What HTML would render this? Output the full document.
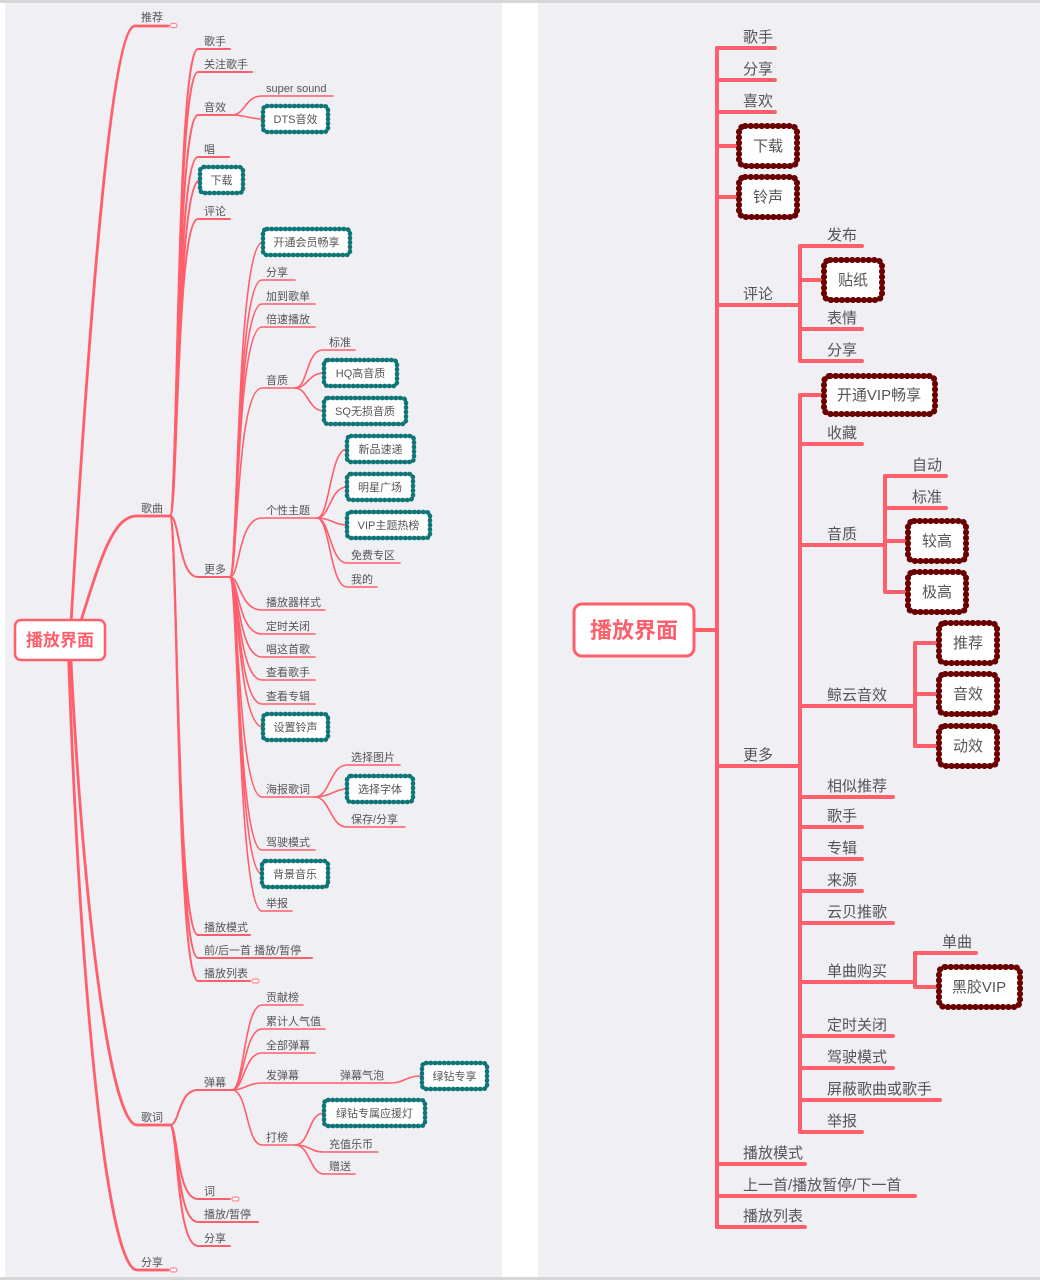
<!DOCTYPE html>
<html><head><meta charset="utf-8"><style>
html,body{margin:0;padding:0;background:#fff}
svg{display:block}
text{font-family:"Liberation Sans","Noto Sans CJK SC",sans-serif;fill:#555}
.l{fill:none;stroke:#ff5f6b;stroke-linecap:round}
.l1{stroke-width:2.8}.l2{stroke-width:2}.l3{stroke-width:1.6}
.s{font-size:11px}
.r{font-size:15px}
.ct{fill:#fff;stroke:#0e7676;stroke-width:2.5}
.cd{fill:none;stroke:#0e7676;stroke-width:4.5;stroke-dasharray:0.5 4;stroke-linecap:round}
.rt{fill:#fff;stroke:#6a0000;stroke-width:3}
.rd{fill:none;stroke:#6a0000;stroke-width:6;stroke-dasharray:0.5 5;stroke-linecap:round}
.R{fill:none;stroke:#ff5f6b;stroke-width:4;stroke-linecap:round;stroke-linejoin:round}
.mk{fill:#fff;stroke:#ff8a92;stroke-width:1.2}
</style></head><body>
<svg width="1040" height="1280" viewBox="0 0 1040 1280" xmlns="http://www.w3.org/2000/svg">
<rect x="0" y="0" width="1040" height="1280" fill="#fff"/>
<rect x="5" y="0" width="497" height="1280" fill="#efeff4"/>
<rect x="538" y="0" width="502" height="1280" fill="#efeff4"/>
<rect x="0" y="0" width="1040" height="3" fill="#d6d6d6"/>
<rect x="0" y="1277" width="1040" height="3" fill="#d6d6d6"/>

<g class="l l1">
<path d="M70 640 C90 300 112 26 135 26 H168"/>
<path d="M75 640 C100 560 112 516 137 516 H170"/>
<path d="M70 640 C82 900 110 1125 137 1125 H170"/>
<path d="M68 640 C80 1000 108 1270 137 1270 H168"/>
</g>
<g class="l l2">
<path d="M170 516 C178 516 176 49 198 49 H230"/>
<path d="M170 516 C178 516 176 72 198 72 H252"/>
<path d="M170 516 C178 516 176 115 198 115 H232"/>
<path d="M170 516 C178 516 176 157 198 157 H229"/>
<path d="M170 516 C178 516 176 180 200 180"/>
<path d="M170 516 C178 516 176 219 198 219 H230"/>
<path d="M170 516 C180 516 178 577 198 577 H230"/>
<path d="M170 516 C178 516 176 935 198 935 H250"/>
<path d="M170 516 C178 516 176 958 198 958 H312"/>
<path d="M170 516 C178 516 176 981 198 981 H250"/>
<path d="M170 1125 C180 1125 178 1090 198 1090 H232"/>
<path d="M170 1125 C178 1125 176 1199 198 1199 H230"/>
<path d="M170 1125 C178 1125 176 1222 198 1222 H258"/>
<path d="M170 1125 C178 1125 176 1246 198 1246 H230"/>
</g>
<g class="l l3">
<path d="M232 115 C245 115 245 96 262 96 H333"/>
<path d="M232 115 C245 115 250 119 263 119"/>
<path d="M230 577 C238 577 236 242 263 242"/>
<path d="M230 577 C238 577 236 280 262 280 H295"/>
<path d="M230 577 C238 577 236 304 262 304 H315"/>
<path d="M230 577 C238 577 236 327 262 327 H315"/>
<path d="M230 577 C238 577 236 388 262 388 H295"/>
<path d="M230 577 C240 577 238 518 262 518 H317"/>
<path d="M230 577 C240 577 240 610 262 610 H325"/>
<path d="M230 577 C238 577 238 634 262 634 H315"/>
<path d="M230 577 C238 577 238 657 262 657 H315"/>
<path d="M230 577 C238 577 238 680 262 680 H315"/>
<path d="M230 577 C238 577 238 704 262 704 H315"/>
<path d="M230 577 C238 577 238 727 263 727"/>
<path d="M230 577 C238 577 238 797 262 797 H315"/>
<path d="M230 577 C238 577 238 850 262 850 H315"/>
<path d="M230 577 C238 577 238 874 262 874"/>
<path d="M230 577 C238 577 238 911 262 911 H292"/>
<path d="M295 388 C308 388 306 350 323 350 H355"/>
<path d="M295 388 C308 388 308 373 324 373"/>
<path d="M295 388 C308 388 308 411 324 411"/>
<path d="M317 518 C330 518 330 449 347 449"/>
<path d="M317 518 C330 518 330 487 347 487"/>
<path d="M317 518 C330 518 335 525 347 525"/>
<path d="M317 518 C330 518 330 563 347 563 H400"/>
<path d="M317 518 C330 518 330 587 347 587 H377"/>
<path d="M315 797 C330 797 330 765 347 765 H400"/>
<path d="M315 797 C330 797 335 789 347 789"/>
<path d="M315 797 C330 797 330 827 347 827 H405"/>
<path d="M232 1090 C244 1090 244 1005 262 1005 H303"/>
<path d="M232 1090 C244 1090 244 1029 262 1029 H325"/>
<path d="M232 1090 C244 1090 244 1053 262 1053 H315"/>
<path d="M232 1090 C244 1090 248 1083 262 1083 H390 C405 1083 405 1076 422 1076"/>
<path d="M232 1090 C248 1090 246 1145 262 1145 H295"/>
<path d="M295 1145 C310 1145 308 1113 324 1113"/>
<path d="M295 1145 C310 1145 310 1152 324 1152 H378"/>
<path d="M295 1145 C310 1145 310 1174 324 1174 H355"/>
</g>
<rect class="mk" x="170" y="23.5" width="7" height="4" rx="2"/>
<rect class="mk" x="252" y="979" width="7" height="4" rx="2"/>
<rect class="mk" x="232" y="1197" width="7" height="4" rx="2"/>
<rect class="mk" x="170" y="1268" width="7" height="4" rx="2"/>

<g>
<rect class="ct" x="263" y="106" width="65" height="26" rx="4"/><rect class="cd" x="263" y="106" width="65" height="26" rx="4"/>
<rect class="ct" x="200" y="167" width="43" height="26" rx="4"/><rect class="cd" x="200" y="167" width="43" height="26" rx="4"/>
<rect class="ct" x="263" y="229" width="87" height="26" rx="4"/><rect class="cd" x="263" y="229" width="87" height="26" rx="4"/>
<rect class="ct" x="324" y="360" width="73" height="26" rx="4"/><rect class="cd" x="324" y="360" width="73" height="26" rx="4"/>
<rect class="ct" x="324" y="398" width="82" height="26" rx="4"/><rect class="cd" x="324" y="398" width="82" height="26" rx="4"/>
<rect class="ct" x="347" y="436" width="67" height="26" rx="4"/><rect class="cd" x="347" y="436" width="67" height="26" rx="4"/>
<rect class="ct" x="347" y="474" width="66" height="26" rx="4"/><rect class="cd" x="347" y="474" width="66" height="26" rx="4"/>
<rect class="ct" x="347" y="512" width="83" height="26" rx="4"/><rect class="cd" x="347" y="512" width="83" height="26" rx="4"/>
<rect class="ct" x="263" y="714" width="65" height="26" rx="4"/><rect class="cd" x="263" y="714" width="65" height="26" rx="4"/>
<rect class="ct" x="347" y="776" width="66" height="26" rx="4"/><rect class="cd" x="347" y="776" width="66" height="26" rx="4"/>
<rect class="ct" x="262" y="861" width="66" height="26" rx="4"/><rect class="cd" x="262" y="861" width="66" height="26" rx="4"/>
<rect class="ct" x="422" y="1063" width="65" height="26" rx="4"/><rect class="cd" x="422" y="1063" width="65" height="26" rx="4"/>
<rect class="ct" x="324" y="1100" width="101" height="26" rx="4"/><rect class="cd" x="324" y="1100" width="101" height="26" rx="4"/>
</g>

<rect x="15" y="620" width="90" height="40" rx="6" fill="#fff" stroke="#ff5f6b" stroke-width="2.5"/>
<text x="60" y="646" text-anchor="middle" style="font-size:17px;font-weight:bold;fill:#ff5f6b">播放界面</text>

<g class="s">
<text x="141" y="21">推荐</text>
<text x="141" y="512">歌曲</text>
<text x="141" y="1121">歌词</text>
<text x="141" y="1266">分享</text>
<text x="204" y="45">歌手</text>
<text x="204" y="68">关注歌手</text>
<text x="204" y="111">音效</text>
<text x="204" y="153">唱</text>
<text x="204" y="215">评论</text>
<text x="204" y="573">更多</text>
<text x="204" y="931">播放模式</text>
<text x="204" y="954">前/后一首 播放/暂停</text>
<text x="204" y="977">播放列表</text>
<text x="266" y="92">super sound</text>
<text x="266" y="276">分享</text>
<text x="266" y="300">加到歌单</text>
<text x="266" y="323">倍速播放</text>
<text x="266" y="384">音质</text>
<text x="266" y="514">个性主题</text>
<text x="266" y="606">播放器样式</text>
<text x="266" y="630">定时关闭</text>
<text x="266" y="653">唱这首歌</text>
<text x="266" y="676">查看歌手</text>
<text x="266" y="700">查看专辑</text>
<text x="266" y="793">海报歌词</text>
<text x="266" y="846">驾驶模式</text>
<text x="266" y="907">举报</text>
<text x="329" y="346">标准</text>
<text x="351" y="559">免费专区</text>
<text x="351" y="583">我的</text>
<text x="351" y="761">选择图片</text>
<text x="351" y="823">保存/分享</text>
<text x="204" y="1086">弹幕</text>
<text x="204" y="1195">词</text>
<text x="204" y="1218">播放/暂停</text>
<text x="204" y="1242">分享</text>
<text x="266" y="1001">贡献榜</text>
<text x="266" y="1025">累计人气值</text>
<text x="266" y="1049">全部弹幕</text>
<text x="266" y="1079">发弹幕</text>
<text x="340" y="1079">弹幕气泡</text>
<text x="266" y="1141">打榜</text>
<text x="329" y="1148">充值乐币</text>
<text x="329" y="1170">赠送</text>
</g>
<g class="s" text-anchor="middle">
<text x="295.5" y="123">DTS音效</text>
<text x="221.5" y="184">下载</text>
<text x="306.5" y="246">开通会员畅享</text>
<text x="360.5" y="377">HQ高音质</text>
<text x="365" y="415">SQ无损音质</text>
<text x="380.5" y="453">新品速递</text>
<text x="380" y="491">明星广场</text>
<text x="388.5" y="529">VIP主题热榜</text>
<text x="295.5" y="731">设置铃声</text>
<text x="380" y="793">选择字体</text>
<text x="295" y="878">背景音乐</text>
<text x="454.5" y="1080">绿钻专享</text>
<text x="374.5" y="1117">绿钻专属应援灯</text>
</g>

<g class="R">
<path d="M694 630 H717"/>
<path d="M717 48 V1227"/>
<path d="M717 48 H775 M717 80 H775 M717 112 H775 M717 146 H738 M717 197 H738"/>
<path d="M717 305 H800 M800 246 V361 M800 246 H862 M800 280 H823 M800 329 H862 M800 361 H862"/>
<path d="M717 766 H800 M800 395 V1132 M800 395 H823 M800 444 H862"/>
<path d="M800 545 H885 M885 476 V592 M885 476 H946 M885 508 H946 M885 541 H907 M885 592 H907"/>
<path d="M800 706 H915 M915 643 V746 M915 643 H938 M915 694 H938 M915 746 H938"/>
<path d="M800 797 H893 M800 827 H862 M800 859 H862 M800 891 H862 M800 923 H893"/>
<path d="M800 982 H915 M915 953 V987 M915 953 H976 M915 987 H938"/>
<path d="M800 1036 H893 M800 1068 H893 M800 1100 H940 M800 1132 H862"/>
<path d="M717 1164 H805 M717 1196 H915 M717 1227 H805"/>
</g>

<g>
<rect class="rt" x="739" y="126" width="58" height="40" rx="6"/><rect class="rd" x="739" y="126" width="58" height="40" rx="6"/>
<rect class="rt" x="739" y="177" width="58" height="40" rx="6"/><rect class="rd" x="739" y="177" width="58" height="40" rx="6"/>
<rect class="rt" x="824" y="260" width="58" height="40" rx="6"/><rect class="rd" x="824" y="260" width="58" height="40" rx="6"/>
<rect class="rt" x="824" y="376" width="111" height="38" rx="6"/><rect class="rd" x="824" y="376" width="111" height="38" rx="6"/>
<rect class="rt" x="908" y="521" width="58" height="40" rx="6"/><rect class="rd" x="908" y="521" width="58" height="40" rx="6"/>
<rect class="rt" x="908" y="572" width="58" height="40" rx="6"/><rect class="rd" x="908" y="572" width="58" height="40" rx="6"/>
<rect class="rt" x="939" y="623" width="58" height="40" rx="6"/><rect class="rd" x="939" y="623" width="58" height="40" rx="6"/>
<rect class="rt" x="939" y="674" width="58" height="40" rx="6"/><rect class="rd" x="939" y="674" width="58" height="40" rx="6"/>
<rect class="rt" x="939" y="726" width="58" height="40" rx="6"/><rect class="rd" x="939" y="726" width="58" height="40" rx="6"/>
<rect class="rt" x="939" y="967" width="81" height="40" rx="6"/><rect class="rd" x="939" y="967" width="81" height="40" rx="6"/>
</g>

<rect x="574" y="604" width="120" height="52" rx="8" fill="#fff" stroke="#ff5f6b" stroke-width="3"/>
<text x="634" y="638" text-anchor="middle" style="font-size:22px;font-weight:bold;fill:#ff5f6b">播放界面</text>

<g class="r">
<text x="743" y="42">歌手</text>
<text x="743" y="74">分享</text>
<text x="743" y="106">喜欢</text>
<text x="743" y="299">评论</text>
<text x="827" y="240">发布</text>
<text x="827" y="323">表情</text>
<text x="827" y="355">分享</text>
<text x="743" y="760">更多</text>
<text x="827" y="438">收藏</text>
<text x="827" y="539">音质</text>
<text x="912" y="470">自动</text>
<text x="912" y="502">标准</text>
<text x="827" y="700">鲸云音效</text>
<text x="827" y="791">相似推荐</text>
<text x="827" y="821">歌手</text>
<text x="827" y="853">专辑</text>
<text x="827" y="885">来源</text>
<text x="827" y="917">云贝推歌</text>
<text x="827" y="976">单曲购买</text>
<text x="942" y="947">单曲</text>
<text x="827" y="1030">定时关闭</text>
<text x="827" y="1062">驾驶模式</text>
<text x="827" y="1094">屏蔽歌曲或歌手</text>
<text x="827" y="1126">举报</text>
<text x="743" y="1158">播放模式</text>
<text x="743" y="1190">上一首/播放暂停/下一首</text>
<text x="743" y="1221">播放列表</text>
</g>
<g class="r" text-anchor="middle">
<text x="768" y="151">下载</text>
<text x="768" y="202">铃声</text>
<text x="853" y="285">贴纸</text>
<text x="879" y="400">开通VIP畅享</text>
<text x="937" y="546">较高</text>
<text x="937" y="597">极高</text>
<text x="968" y="648">推荐</text>
<text x="968" y="699">音效</text>
<text x="968" y="751">动效</text>
<text x="979" y="992">黑胶VIP</text>
</g>
</svg>
</body></html>
